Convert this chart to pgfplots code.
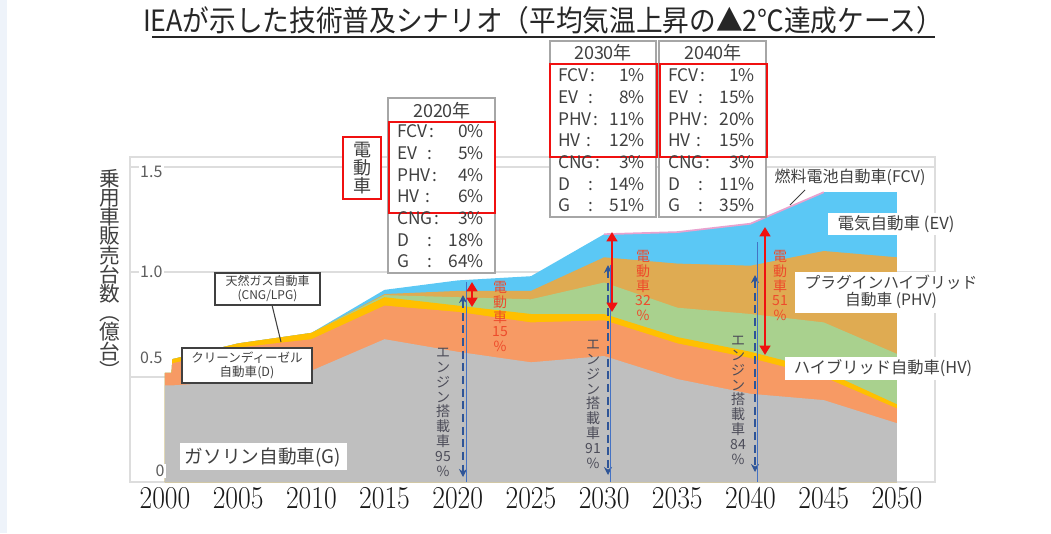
\documentclass[border=0pt]{standalone}
\usepackage{fontspec}
\usepackage{graphicx}
\usepackage{pgfplots}
\pgfplotsset{compat=1.18}
\usetikzlibrary{arrows.meta}
\newfontfamily\jp{Noto Sans CJK JP}

\definecolor{cG}{HTML}{BFBFBF}
\definecolor{cD}{HTML}{F79A64}
\definecolor{cCNG}{HTML}{FFC000}
\definecolor{cHV}{HTML}{A9D18E}
\definecolor{cPHV}{HTML}{DFAB52}
\definecolor{cEV}{HTML}{5BC8F5}
\definecolor{cFCV}{HTML}{E8A2CF}
\definecolor{cFrame}{HTML}{DDDDDD}
\definecolor{cTxt}{HTML}{404040}
\definecolor{cRed}{HTML}{F01010}
\definecolor{cRedT}{HTML}{EE4B2B}
\definecolor{cBlue}{HTML}{2F5597}
\definecolor{cBlueL}{HTML}{4472C4}
\definecolor{cEng}{HTML}{4D4D59}
\definecolor{cBox}{HTML}{A6A6A6}
\definecolor{cStrip}{HTML}{EEF3FA}

% table of shares: x of label column, y of first row, then the seven values
\newcommand{\tbl}[9]{%
  \foreach \lb/\cx/\vv [count=\i from 0] in {FCV/35/#3,EV/33/#4,PHV/38/#5,HV/31/#6,CNG/40/#7,D/33/#8,G/33/#9}{%
    \pgfmathsetmacro{\yy}{#2+21.7*\i}
    \node[tb, anchor=west] at (#1,\yy) {\lb};
    \node[tb] at (#1+\cx,\yy) {:};
    \node[tb, anchor=east] at (#1+87,\yy) {\vv\%};
  }}

\begin{document}
\begin{tikzpicture}[x=0.75pt,y=-0.75pt,
  tb/.style={font=\jp\fontsize{13}{14}\selectfont, text=cTxt, inner sep=0pt, text height=9pt, text depth=2pt},
  vt/.style={font=\jp\fontsize{10.5}{11.1}\selectfont, align=center, anchor=north, inner sep=0pt},
  ]
\fill[cStrip] (0,0) rectangle (7,533);

% axis box: left 130px, bottom 482px
\begin{axis}[
  at={(97.5pt,-361.5pt)}, anchor=south west,
  scale only axis, width=603.75pt, height=243.75pt,
  xmin=1997.61, xmax=2052.6, ymin=0, ymax=1.5476,
  axis line style={draw=cFrame, line width=1.2pt},
  xtick={2000,2005,...,2050},
  xticklabel={\scalebox{1}[1.15]{\pgfmathprintnumber[int detect,1000 sep={}]{\tick}}},
  xticklabel style={font=\fontsize{21.5}{22}\selectfont, text=black!90, yshift=-1pt},
  xtick style={draw=none},
  ytick={0.5,1,1.5}, yticklabels={}, ytick style={draw=none},
  ymajorgrids, grid style={cFrame, line width=0.9pt},
]
% cumulative tops, drawn from the top layer down
\addplot[fill=cEV, draw=none] coordinates {
  (2000,0.52)(2000.45,0.52)(2000.5,0.585)(2005,0.66)(2010,0.71)(2015,0.915)(2020,0.96)
  (2025,0.98)(2030,1.18)(2035,1.19)(2040,1.23)(2045,1.38)(2050,1.38)} \closedcycle;
\addplot[fill=cPHV, draw=none] coordinates {
  (2000,0.52)(2000.45,0.52)(2000.5,0.585)(2005,0.66)(2010,0.71)(2015,0.895)(2020,0.91)
  (2025,0.91)(2030,1.07)(2035,1.04)(2040,1.03)(2045,1.10)(2050,1.07)} \closedcycle;
\addplot[fill=cHV, draw=none] coordinates {
  (2000,0.52)(2000.45,0.52)(2000.5,0.585)(2005,0.66)(2010,0.71)(2015,0.89)(2020,0.88)
  (2025,0.87)(2030,0.95)(2035,0.83)(2040,0.80)(2045,0.76)(2050,0.61)} \closedcycle;
\addplot[fill=cCNG, draw=none] coordinates {
  (2000,0.52)(2000.45,0.52)(2000.5,0.585)(2005,0.66)(2010,0.71)(2015,0.88)(2020,0.84)
  (2025,0.80)(2030,0.80)(2035,0.69)(2040,0.62)(2045,0.53)(2050,0.37)} \closedcycle;
\addplot[fill=cD, draw=none] coordinates {
  (2000,0.52)(2000.45,0.52)(2000.5,0.565)(2005,0.64)(2010,0.68)(2015,0.84)(2020,0.81)
  (2025,0.76)(2030,0.77)(2035,0.66)(2040,0.59)(2045,0.50)(2050,0.35)} \closedcycle;
\addplot[fill=cG, draw=none] coordinates {
  (2000,0.46)(2000.45,0.46)(2000.5,0.46)(2005,0.48)(2010,0.53)(2015,0.68)(2020,0.62)
  (2025,0.57)(2030,0.60)(2035,0.49)(2040,0.42)(2045,0.39)(2050,0.28)} \closedcycle;
\addplot[cFCV, line width=1.3pt] coordinates {(2030,1.18)(2035,1.19)(2040,1.23)(2045,1.38)};
\end{axis}

% title
\node[font=\jp\fontsize{20}{20}\selectfont, text=black!85, anchor=base] at (543,31)
  {\scalebox{1}[1.1]{IEAが示した技術普及シナリオ（平均気温上昇の▲2℃達成ケース）}};
\draw[black!85, line width=1.1pt] (152,37) -- (935,37);

% y axis title and tick labels
\node[font=\jp\fontsize{15.5}{14.4}\selectfont, align=center, text=cTxt, anchor=north, inner sep=0pt]
  at (110,169) {乗\\用\\車\\販\\売\\台\\数\\︵\\億\\台\\︶};
\begin{scope}[every node/.style={font=\jp\fontsize{12}{12}\selectfont, text=cTxt!85, anchor=east, fill=white, inner sep=1pt}]
\node at (164,172) {1.5};
\node at (164,272) {1.0};
\node at (164,358) {0.5};
\node at (166,471) {0};
\end{scope}

% engine-equipped arrows
\begin{scope}[line width=2pt, cBlue, dash pattern=on 6pt off 3.5pt]
\draw[{Stealth[length=6pt,width=6pt]}-{Stealth[length=6pt,width=6pt]}] (463,295) -- (463,477);
\draw[{Stealth[length=6pt,width=6pt]}-{Stealth[length=6pt,width=6pt]}] (608,265) -- (608,475);
\draw[{Stealth[length=6pt,width=6pt]}-{Stealth[length=6pt,width=6pt]}] (755,275) -- (755,472);
\end{scope}
\draw[cBlueL, line width=0.7pt] (466,282) -- (466,482);
\draw[cBlueL, line width=0.7pt] (610,265) -- (610,482);
\draw[cBlueL, line width=0.7pt] (757,242) -- (757,482);
\node[vt, text=cEng] at (443,348) {エ\\ン\\ジ\\ン\\搭\\載\\車\\95\\\%};
\node[vt, text=cEng] at (593,340) {エ\\ン\\ジ\\ン\\搭\\載\\車\\91\\\%};
\node[vt, text=cEng] at (738,336) {エ\\ン\\ジ\\ン\\搭\\載\\車\\84\\\%};

% electrified arrows
\begin{scope}[line width=2.2pt, cRed]
\draw[{Triangle[length=7pt,width=8pt]}-{Triangle[length=7pt,width=8pt]}] (472,282) -- (472,307);
\draw[{Triangle[length=7pt,width=8pt]}-{Triangle[length=7pt,width=8pt]}] (612,232) -- (612,312);
\draw[{Triangle[length=7pt,width=8pt]}-{Triangle[length=7pt,width=8pt]}] (765,227) -- (765,355);
\end{scope}
\node[vt, text=cRedT] at (500,281) {電\\動\\車\\15\\\%};
\node[vt, text=cRedT] at (643,250) {電\\動\\車\\32\\\%};
\node[vt, text=cRedT] at (780,250) {電\\動\\車\\51\\\%};

% series labels
\node[draw=cTxt, line width=0.8pt, fill=white, align=center, text=cTxt,
  font=\jp\fontsize{9}{10.5}\selectfont, minimum width=78.75pt, minimum height=24pt, inner sep=1pt]
  at (267.5,289) {天然ガス自動車\\(CNG/LPG)};
\draw[cTxt, line width=0.8pt] (272,305) -- (281,342);
\node[draw=cTxt, line width=0.8pt, fill=white, align=center, text=cTxt,
  font=\jp\fontsize{9.4}{10.4}\selectfont, minimum width=97.5pt, minimum height=26.25pt, inner sep=1pt]
  at (247,365.5) {クリーンディーゼル\\自動車(D)};
\fill[white] (180,443) rectangle (347,470);
\node[font=\jp\fontsize{14}{14}\selectfont, text=cTxt] at (263,457) {ガソリン自動車(G)};

\node[font=\jp\fontsize{12}{13}\selectfont, text=cTxt] at (850,177) {燃料電池自動車(FCV)};
\draw[cTxt, line width=0.6pt] (805,190) -- (790,205);
\fill[white] (828,213) rectangle (965,235);
\node[font=\jp\fontsize{12.4}{13}\selectfont, text=cTxt] at (896,224) {電気自動車 (EV)};
\fill[white] (795,272) rectangle (985,313);
\node[font=\jp\fontsize{11.8}{12.75}\selectfont, text=cTxt, align=center] at (891,292)
  {プラグインハイブリッド\\自動車 (PHV)};
\fill[white] (785,357) rectangle (982,380);
\node[font=\jp\fontsize{12.2}{13}\selectfont, text=cTxt] at (883,368) {ハイブリッド自動車(HV)};

% "electrified" tag
\draw[cRed, line width=1.1pt, fill=white] (343,137) rectangle (381,199);
\node[font=\jp\fontsize{13.5}{13.8}\selectfont, align=center, text=cTxt, inner sep=0pt] at (362,168) {電\\動\\車};

% share tables
\draw[cBox, line width=0.8pt, fill=white] (388,98) rectangle (495,273);
\draw[cRed, line width=2pt] (389,122) rectangle (495,213);
\node[font=\jp\fontsize{13.5}{14}\selectfont, text=cTxt] at (442,111) {2020年};
\tbl{397}{133}{0}{5}{4}{6}{3}{18}{64}

\draw[cBox, line width=0.8pt, fill=white] (550,41) rectangle (656,217);
\draw[cBox, line width=0.8pt, fill=white] (659,41) rectangle (766,217);
\draw[cRed, line width=2pt] (550,64) rectangle (657,157);
\draw[cRed, line width=2pt] (660,64) rectangle (767,157);
\node[font=\jp\fontsize{13.5}{14}\selectfont, text=cTxt] at (603,53) {2030年};
\node[font=\jp\fontsize{13.5}{14}\selectfont, text=cTxt] at (713,53) {2040年};
\tbl{558}{77}{1}{8}{11}{12}{3}{14}{51}
\tbl{668}{77}{1}{15}{20}{15}{3}{11}{35}

\pgfresetboundingbox
\path[use as bounding box] (0,0) rectangle (1051,533);
\end{tikzpicture}
\end{document}
